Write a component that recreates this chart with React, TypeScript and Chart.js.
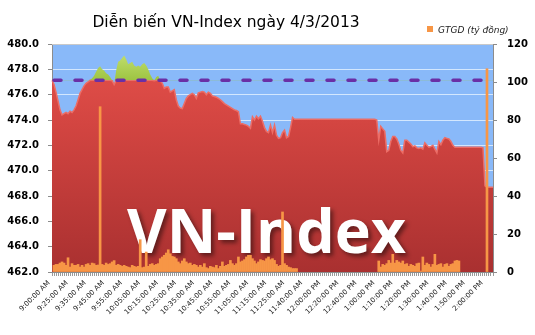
import React, { useEffect, useRef } from 'react';
import { Chart, registerables } from 'chart.js';

Chart.register(...registerables);

const TITLE = 'Diễn biến VN-Index ngày 4/3/2013';
const LEGEND_LABEL = 'GTGD (tỷ đồng)';
const WATERMARK = 'VN-Index';

const TIME_LABELS = [
  '9:00:00 AM', '9:25:00 AM', '9:35:00 AM', '9:45:00 AM', '9:55:00 AM',
  '10:05:00 AM', '10:15:00 AM', '10:25:00 AM', '10:35:00 AM', '10:45:00 AM',
  '10:55:00 AM', '11:05:00 AM', '11:15:00 AM', '11:25:00 AM', '11:40:00 AM',
  '12:00:00 PM', '12:20:00 PM', '12:40:00 PM', '1:00:00 PM', '1:10:00 PM',
  '1:20:00 PM', '1:30:00 PM', '1:40:00 PM', '1:50:00 PM', '2:00:00 PM',
];
const POINTS_PER_LABEL = 9;

const REFERENCE = 477.13;

const INDEX_VALUES = [
  477.2, 476.8, 476.2, 475.5, 474.8, 474.4, 474.5, 474.6, 474.5, 474.7,
  474.6, 474.8, 475.1, 475.6, 476.1, 476.4, 476.7, 476.9, 477.0, 477.15,
  477.3, 477.5, 477.8, 478.1, 478.25, 478.0, 477.9, 477.7, 477.6, 477.4,
  477.1, 476.8, 477.9, 478.6, 478.7, 478.9, 479.1, 478.8, 478.4, 478.5,
  478.6, 478.3, 478.2, 478.3, 478.2, 478.4, 478.5, 478.3, 478.0, 477.6,
  477.3, 477.1, 477.4, 477.5, 477.1, 476.9, 476.5, 476.6, 476.6, 476.2,
  476.3, 476.4, 475.6, 475.1, 474.95, 474.9, 475.3, 475.7, 475.9, 476.0,
  476.1, 476.0, 475.7, 476.15, 476.2, 476.25, 476.2, 476.0, 476.2, 476.1,
  475.9, 475.85, 475.8, 475.7, 475.6, 475.45, 475.3, 475.2, 475.1, 475.0,
  474.9, 474.8, 474.75, 474.65, 473.7, 473.7, 473.65, 473.6, 473.5, 473.35,
  474.25, 474.0, 474.3, 474.1, 474.3, 473.9, 473.4, 473.1, 473.0, 473.6,
  473.0, 473.6, 472.8, 472.55, 472.6, 473.0, 473.2, 472.6, 472.7, 473.4,
  474.2, 474.05, 474.05, 474.05, 474.05, 474.05, 474.05, 474.05, 474.05, 474.05,
  474.05, 474.05, 474.05, 474.05, 474.05, 474.05, 474.05, 474.05, 474.05, 474.05,
  474.05, 474.05, 474.05, 474.05, 474.05, 474.05, 474.05, 474.05, 474.05, 474.05,
  474.05, 474.05, 474.05, 474.05, 474.05, 474.05, 474.05, 474.05, 474.05, 474.05,
  474.05, 474.05, 474.0, 472.4, 473.5, 473.3, 473.1, 471.5, 471.6, 472.3,
  472.7, 472.7, 472.5, 472.1, 471.6, 471.4, 472.4, 472.4, 472.25, 472.1,
  471.9, 471.95, 471.8, 471.75, 471.8, 471.7, 472.2, 472.0, 471.85, 471.9,
  472.0, 471.7, 471.4, 472.3, 472.05, 472.4, 472.6, 472.55, 472.5, 472.3,
  472.0, 471.85, 471.85, 471.85, 471.85, 471.85, 471.85, 471.85, 471.85, 471.85,
  471.85, 471.85, 471.85, 471.85, 471.85, 471.8, 468.8, 468.7, 468.7, 468.7,
  468.7,
];

const VOLUME_VALUES = [
  null, 3.5, 4, 4, 4.7, 5.3, 4.7, 3.5, 7.5, 2.6,
  4.4, 3.5, 3.5, 4, 2.6, 3.5, 2.6, 4, 4.4, 3.5,
  4.7, 4.4, 3.5, 3.7, 87, 4, 3.5, 4.7, 4, 4.4,
  5.3, 6, 3.5, 4, 3.5, 3, 3.5, 3, 2.6, 2.3,
  3.5, 3, 2.6, 3, 17, 2.3, 2.6, 10.5, 3, 4,
  4.4, 3.5, 4, 4.4, 7, 7.9, 8.8, 10, 11.7, 9.6,
  8.2, 7.9, 7, 5.3, 4.4, 5.8, 7, 5.3, 4.4, 4.7,
  3.5, 4, 3.5, 2.6, 3.5, 2.6, 4.4, 2.3, 1.8, 3,
  2.6, 2.3, 3.5, 1.8, 3, 5.3, 3, 3.5, 4, 6.1,
  4.4, 3.5, 4.4, 7.9, 5.3, 5.8, 6.5, 7.9, 8.8, 8.8,
  7, 5.8, 4.4, 5.3, 6.5, 6.1, 5.8, 7, 7.9, 6.5,
  7, 6.1, 4, 3, 3.5, 31.6, 4.4, 3.5, 2.6, 2.3,
  1.8, 1.8, 1.8, null, null, null, null, null, null, null,
  null, null, null, null, null, null, null, null, null, null,
  null, null, null, null, null, null, null, null, null, null,
  null, null, null, null, null, null, null, null, null, null,
  null, null, null, 5.8, 2.6, 4, 3.5, 4.4, 6.1, 4.7,
  9.3, 4.7, 6.1, 5.3, 4.7, 5.8, 4, 4.4, 3, 4,
  3.5, 3, 4.4, 4.7, 0.5, 7.9, 3.5, 4.7, 4, 2.6,
  4, 9.3, 3.5, 4, 4.4, 2.6, 4, 4.4, 3, 4,
  4.4, 5.8, 6.1, 5.8, null, null, null, null, null, null,
  null, null, null, null, null, null, null, 107, null, null,
  null,
];

const LEFT_MIN = 462;
const LEFT_MAX = 480;
const LEFT_STEP = 2;
const RIGHT_MIN = 0;
const RIGHT_MAX = 120;
const RIGHT_STEP = 20;

const W = 535;
const H = 335;
const PLOT = { left: 52, right: 493, top: 44, bottom: 272 };

const PLOT_BG = '#89b9f9';
const AXIS_GRAY = '#8c8c8c';
const ORANGE = '#f79646';
const PURPLE = '#6a2fa6';

const FONT = 'DejaVu Sans';

const labels = INDEX_VALUES.map((_, i) =>
  i % POINTS_PER_LABEL === 0 ? TIME_LABELS[i / POINTS_PER_LABEL] ?? '' : ''
);
const redValues = INDEX_VALUES.map((v) => Math.min(v, REFERENCE));

function redGradient(ctx: any) {
  const { chart } = ctx;
  const a = chart.chartArea;
  if (!a) return '#cc3f3d';
  const g = chart.ctx.createLinearGradient(0, a.top, 0, a.bottom);
  g.addColorStop(0, '#e6524c');
  g.addColorStop(0.35, '#d34541');
  g.addColorStop(1, '#a93030');
  return g;
}

function greenGradient(ctx: any) {
  const { chart } = ctx;
  const a = chart.chartArea;
  if (!a) return '#a8cc48';
  const g = chart.ctx.createLinearGradient(0, a.top + 8, 0, a.top + 40);
  g.addColorStop(0, '#c4e070');
  g.addColorStop(1, '#98c03c');
  return g;
}

const chromePlugin = {
  id: 'chrome',
  beforeDraw(chart: any) {
    const { ctx, chartArea: a } = chart;
    ctx.save();
    ctx.fillStyle = '#ffffff';
    ctx.fillRect(0, 0, chart.width, chart.height);
    ctx.fillStyle = PLOT_BG;
    ctx.fillRect(a.left, a.top, a.right - a.left, a.bottom - a.top);
    ctx.restore();
  },
  afterDatasetDraw(chart: any, args: any) {
    const { ctx, chartArea: a } = chart;
    if (args.index === 2) {
      // reference (previous close) dashed line, positioned via the index scale
      const y = chart.scales.y.getPixelForValue(REFERENCE);
      ctx.save();
      ctx.strokeStyle = PURPLE;
      ctx.lineWidth = 3.5;
      ctx.lineCap = 'round';
      ctx.setLineDash([7, 14]);
      ctx.beginPath();
      ctx.moveTo(a.left + 2, y);
      ctx.lineTo(a.right - 6, y);
      ctx.stroke();
      ctx.restore();
    }
    if (args.index === 3) {
      ctx.save();
      ctx.font = 'bold 61px "Open Sans"';
      ctx.textAlign = 'left';
      ctx.textBaseline = 'alphabetic';
      ctx.shadowColor = 'rgba(0,0,0,0.45)';
      ctx.shadowBlur = 4;
      ctx.shadowOffsetX = 3;
      ctx.shadowOffsetY = 3;
      ctx.fillStyle = '#ffffff';
      ctx.fillText(WATERMARK, 127, 253);
      ctx.restore();
    }
  },
  afterDraw(chart: any) {
    const { ctx, chartArea: a } = chart;
    ctx.save();
    ctx.strokeStyle = '#c9c9c9';
    ctx.lineWidth = 1;
    ctx.beginPath();
    ctx.moveTo(a.left, a.top + 0.5);
    ctx.lineTo(a.right, a.top + 0.5);
    ctx.stroke();

    ctx.fillStyle = '#000000';
    ctx.font = `15.5px "${FONT}"`;
    ctx.textAlign = 'center';
    ctx.textBaseline = 'alphabetic';
    ctx.fillText(TITLE, 226, 27);

    ctx.fillStyle = ORANGE;
    ctx.fillRect(427, 26, 6, 6);
    ctx.fillStyle = '#222222';
    ctx.font = `italic 9px "${FONT}"`;
    ctx.textAlign = 'left';
    ctx.fillText(LEGEND_LABEL, 438, 33);
    ctx.restore();
  },
};

export default function App() {
  const ref = useRef<HTMLCanvasElement | null>(null);
  useEffect(() => {
    document.body.style.margin = '0';
    const canvas = ref.current;
    if (!canvas) return;
    const chart = new Chart(canvas, {
      type: 'line',
      data: {
        labels,
        datasets: [
          {
            type: 'bar',
            label: LEGEND_LABEL,
            data: VOLUME_VALUES as any,
            yAxisID: 'y2',
            backgroundColor: ORANGE,
            borderWidth: 0,
            barPercentage: 1,
            categoryPercentage: 1,
            order: 0,
          } as any,
          {
            type: 'line',
            label: 'reference',
            data: [],
            yAxisID: 'y',
            borderWidth: 0,
            pointRadius: 0,
            fill: false,
            order: 1,
          } as any,
          {
            type: 'line',
            label: 'above',
            data: INDEX_VALUES,
            yAxisID: 'y',
            borderWidth: 0,
            pointRadius: 0,
            tension: 0,
            fill: { target: { value: REFERENCE }, above: greenGradient, below: 'rgba(0,0,0,0)' },
            order: 2,
          } as any,
          {
            type: 'line',
            label: 'VN-Index',
            data: redValues,
            yAxisID: 'y',
            borderColor: '#ec6d66',
            borderWidth: 1.5,
            backgroundColor: redGradient,
            pointRadius: 0,
            tension: 0,
            fill: 'start',
            order: 3,
          } as any,
        ],
      },
      options: {
        responsive: false,
        animation: false,
        events: [],
        layout: { padding: { top: PLOT.top, left: 0, right: 0, bottom: 0 } },
        plugins: {
          legend: { display: false },
          title: { display: false },
          tooltip: { enabled: false },
        },
        scales: {
          x: {
            type: 'category',
            offset: false,
            afterFit: (s: any) => { s.height = H - PLOT.bottom; },
            grid: {
              drawOnChartArea: false,
              drawTicks: true,
              tickLength: 4,
              tickColor: '#9a9a9a',
              offset: false,
            },
            border: { display: true, color: AXIS_GRAY, width: 1 },
            ticks: {
              autoSkip: false,
              maxRotation: 45,
              minRotation: 45,
              padding: 3,
              labelOffset: -3,
              color: '#222222',
              font: { family: FONT, size: 7 },
            },
          },
          y: {
            type: 'linear',
            position: 'left',
            min: LEFT_MIN,
            max: LEFT_MAX,
            afterFit: (s: any) => { s.width = PLOT.left; },
            grid: {
              color: 'rgba(225,238,255,0.85)',
              tickColor: AXIS_GRAY,
              tickLength: 4,
              drawTicks: true,
            },
            border: { display: true, color: AXIS_GRAY, width: 1 },
            ticks: {
              stepSize: LEFT_STEP,
              padding: 9,
              color: '#000000',
              font: { family: FONT, size: 10, weight: 'bold' },
              callback: (v: any) => Number(v).toFixed(1),
            },
          },
          y2: {
            type: 'linear',
            position: 'right',
            min: RIGHT_MIN,
            max: RIGHT_MAX,
            afterFit: (s: any) => { s.width = W - PLOT.right; },
            grid: {
              drawOnChartArea: false,
              tickColor: AXIS_GRAY,
              tickLength: 4,
            },
            border: { display: true, color: AXIS_GRAY, width: 1 },
            ticks: {
              stepSize: RIGHT_STEP,
              padding: 10,
              color: '#000000',
              font: { family: FONT, size: 10, weight: 'bold' },
            },
          },
        },
      } as any,
      plugins: [chromePlugin],
    });
    return () => chart.destroy();
  }, []);
  return (
    <div style={{ width: W, height: H }}>
      <canvas ref={ref} width={W} height={H} style={{ display: 'block' }} />
    </div>
  );
}
